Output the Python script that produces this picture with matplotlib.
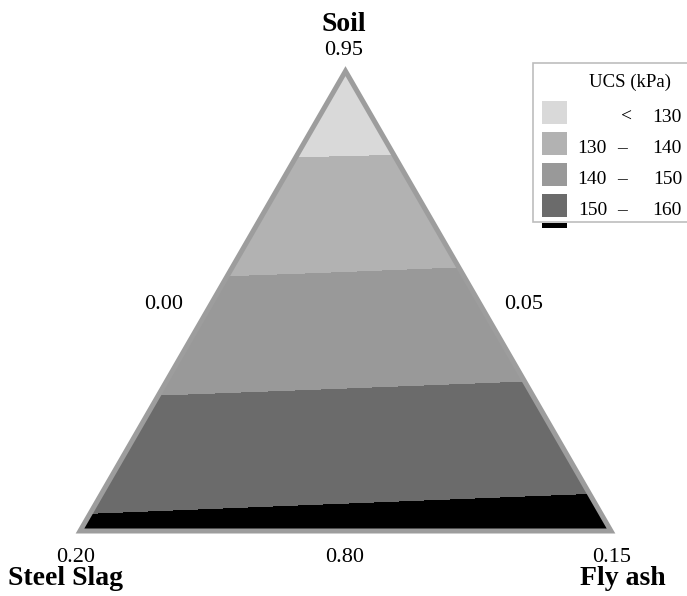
import numpy as np
import matplotlib
matplotlib.use("Agg")
import matplotlib.pyplot as plt
import matplotlib.tri as mtri
from matplotlib.patches import Rectangle, Polygon

# soil content of each row (bottom edge 0.80 -> top vertex 0.95)
soil = [0.800, 0.819, 0.838, 0.856, 0.875, 0.894, 0.913, 0.931, 0.950]
# UCS read along the steel slag side and the fly ash side
ucs_slag_side = [161.4, 156.5, 151.6, 146.8, 142.0, 137.2, 132.4, 127.5, 122.7]
ucs_flyash_side = [163.2, 158.1, 153.0, 147.9, 142.9, 137.8, 132.7, 127.6, 122.7]

levels = [100, 130, 140, 150, 160, 200]
band_colors = ['#d9d9d9', '#b2b2b2', '#999999', '#6b6b6b', '#000000']
legend_low = ['', '130', '140', '150']
legend_high = ['130', '140', '150', '160']

plt.rcParams['font.family'] = ['Liberation Serif', 'DejaVu Serif']

W, H = 687, 596
fig = plt.figure(figsize=(W / 100, H / 100), dpi=100)
h3 = np.sqrt(3) / 2
ax = fig.add_axes([80 / W, 65 / H, 531 / W, 531 * h3 / H])
ax.set_xlim(0, 1)
ax.set_ylim(0, h3)
ax.axis('off')

# build points on the two sides, rows joined into triangles
xs, ys, zs = [], [], []
for s, zl, zr in zip(soil, ucs_slag_side, ucs_flyash_side):
    t = (s - soil[0]) / (soil[-1] - soil[0])
    if t < 0.999:
        xs += [t / 2, 1 - t / 2]
        ys += [t * h3, t * h3]
        zs += [zl, zr]
    else:
        xs.append(0.5)
        ys.append(h3)
        zs.append((zl + zr) / 2)
tris = []
n_rows = len(soil) - 1
for i in range(n_rows):
    a, b = 2 * i, 2 * i + 1
    if i < n_rows - 1:
        c, d = 2 * i + 2, 2 * i + 3
        tris.append([a, b, d])
        tris.append([a, d, c])
    else:
        tris.append([a, b, 2 * i + 2])
tri = mtri.Triangulation(xs, ys, tris)
ax.tricontourf(tri, zs, levels=levels, colors=band_colors)

ax.add_patch(Polygon([[0, 0], [1, 0], [0.5, h3]], closed=True, fill=False,
                     edgecolor='#9d9d9d', lw=3.6, joinstyle='miter', clip_on=False))

def px(x, y):
    return x / W, 1 - y / H

# axis labels
fig.text(*px(344, 31), 'Soil', ha='center', va='baseline', fontsize=20, fontweight='bold')
fig.text(*px(344, 55), '0.95', ha='center', va='baseline', fontsize=16)
fig.text(*px(164, 309), '0.00', ha='center', va='baseline', fontsize=16)
fig.text(*px(524, 309), '0.05', ha='center', va='baseline', fontsize=16)
fig.text(*px(76, 562), '0.20', ha='center', va='baseline', fontsize=16)
fig.text(*px(345, 562), '0.80', ha='center', va='baseline', fontsize=16)
fig.text(*px(612, 562), '0.15', ha='center', va='baseline', fontsize=16)
fig.text(*px(66, 585), 'Steel Slag', ha='center', va='baseline', fontsize=20, fontweight='bold')
fig.text(*px(623, 585), 'Fly ash', ha='center', va='baseline', fontsize=20, fontweight='bold')

# legend box (runs off the right edge like the original)
x0, y0 = px(533, 222)
fig.patches.append(Rectangle((x0, y0), 300 / W, 159 / H, transform=fig.transFigure,
                             facecolor='white', edgecolor='#bdbdbd', lw=1.2))
fig.text(*px(630, 87), 'UCS (kPa)', ha='center', va='baseline', fontsize=13.5)
for i in range(4):
    top = 101 + 31 * i
    sx, sy = px(542, top + 23)
    fig.patches.append(Rectangle((sx, sy), 25 / W, 23 / H, transform=fig.transFigure,
                                 facecolor=band_colors[i], edgecolor='none'))
    base = top + 21
    if legend_low[i] == '':
        fig.text(*px(627, base), '<', ha='center', va='baseline', fontsize=14)
    else:
        fig.text(*px(607, base), legend_low[i], ha='right', va='baseline', fontsize=14)
        fig.text(*px(622, base), '\u2013', ha='center', va='baseline', fontsize=14)
    fig.text(*px(682, base), legend_high[i], ha='right', va='baseline', fontsize=14)
sx, sy = px(542, 228)
fig.patches.append(Rectangle((sx, sy), 25 / W, 5 / H, transform=fig.transFigure,
                             facecolor=band_colors[4], edgecolor='none'))

fig.savefig('out.png', dpi=100)
